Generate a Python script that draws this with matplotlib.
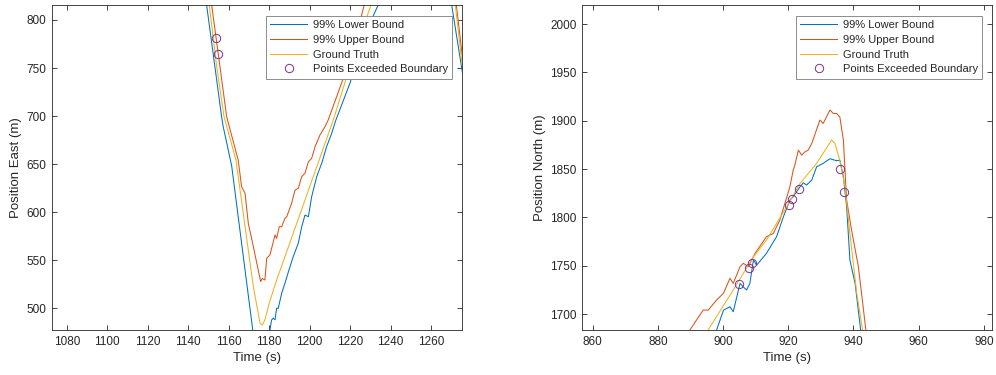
import matplotlib
matplotlib.use("Agg")
import matplotlib.pyplot as plt

plt.rcParams['font.family'] = ['Liberation Sans', 'DejaVu Sans']

# ---------------- Left panel: Position East ----------------
east_lower_t = [1148.1, 1149.1, 1153.2, 1156.5, 1157.3, 1161.5, 1166.4, 1171.9, 1173.5,
                1179.5, 1180.4, 1181.2, 1182.0, 1182.9, 1183.7, 1184.5, 1186.2, 1187.8, 1190.3, 1191.9,
                1194.4, 1196.1, 1197.7, 1199.4, 1201.0, 1203.5, 1206.0, 1208.4, 1210.9, 1213.0,
                1219.9, 1228.2, 1233.9, 1252.0, 1270.2, 1275.3, 1277.0]
east_lower = [830.0, 815.6, 751.4, 699.4, 689.0, 648.0, 567.6, 477.4, 455.0,
              455.0, 477.4, 487.8, 489.6, 488.0, 500.0, 500.0, 515.6, 526.0, 543.3, 553.7,
              567.7, 584.9, 597.0, 595.3, 616.0, 637.0, 651.0, 668.2, 682.0, 696.0,
              734.0, 789.6, 815.6, 900.0, 815.6, 748.0, 725.0]

east_upper_t = [1150.8, 1151.6, 1155.7, 1159.0, 1164.7, 1166.4, 1168.1, 1169.7, 1172.2, 1174.6,
                1175.8, 1176.6, 1177.9, 1178.8, 1180.4, 1182.9, 1183.7, 1185.0, 1186.2,
                1187.8, 1188.7, 1191.1, 1192.8, 1194.4, 1196.1, 1197.7, 1199.4, 1201.0, 1202.7,
                1205.1, 1207.6, 1209.2, 1219.9, 1227.0, 1250.0, 1272.5, 1275.3, 1277.0]
east_upper = [830.0, 815.6, 751.4, 699.4, 654.3, 626.5, 619.7, 588.4, 564.1, 539.9,
              527.7, 531.0, 529.4, 552.0, 555.5, 576.3, 572.8, 584.9, 584.9,
              593.6, 595.3, 609.3, 623.0, 624.9, 637.0, 640.5, 652.5, 656.0, 668.2,
              680.3, 689.0, 696.0, 758.4, 815.6, 900.0, 815.6, 765.0, 745.0]

east_truth_t = [1149.6, 1150.4, 1154.1, 1157.7, 1163.6, 1168.1, 1172.2, 1175.5, 1176.6, 1177.9,
                1180.0, 1183.7, 1191.9, 1201.8, 1211.7, 1219.9, 1230.0, 1250.0,
                1272.0, 1275.3, 1277.0]
east_truth = [830.0, 815.6, 751.4, 699.4, 654.3, 584.9, 522.5, 484.4, 482.6, 487.8,
              505.0, 529.4, 578.0, 637.0, 696.0, 751.4, 813.8, 900.0,
              815.6, 755.0, 735.0]

east_exceed_t = [1153.7, 1154.8]
east_exceed = [780.9, 764.3]

# ---------------- Right panel: Position North ----------------
north_lower_t = [897.5, 898.0, 900.1, 902.1, 903.1, 905.2, 906.2, 907.2, 908.2, 909.3,
                 910.3, 913.3, 916.4, 918.5, 920.5, 921.5, 923.6, 924.6, 925.6, 927.2,
                 928.7, 930.7, 932.8, 934.8, 935.8, 936.9, 937.9, 938.9, 940.5, 942.2, 942.8]
north_lower = [1670.0, 1683.5, 1704.0, 1707.6, 1702.4, 1731.7, 1728.0, 1724.9, 1731.7, 1755.8,
               1750.6, 1762.8, 1780.0, 1800.7, 1818.0, 1821.4, 1831.7, 1835.8, 1833.4, 1838.6,
               1852.4, 1855.9, 1860.7, 1858.6, 1859.3, 1842.1, 1811.0, 1755.8, 1731.7, 1683.5, 1665.0]

north_upper_t = [888.5, 889.8, 893.9, 895.4, 898.0, 900.1, 902.1, 903.1, 905.2, 906.2,
                 907.7, 909.8, 913.3, 915.4, 917.4, 920.5, 921.5, 922.0, 923.1, 924.1,
                 925.1, 926.1, 927.2, 929.7, 930.7, 932.8, 933.8, 934.8, 935.8, 936.9,
                 937.9, 939.4, 941.5, 943.8, 944.3]
north_upper = [1678.0, 1683.5, 1704.2, 1704.0, 1714.5, 1721.4, 1737.0, 1731.7, 1749.0, 1752.5,
               1749.0, 1762.8, 1780.0, 1783.4, 1797.2, 1831.7, 1848.9, 1854.0, 1869.6, 1864.4,
               1867.8, 1869.6, 1876.5, 1900.7, 1897.2, 1911.0, 1907.5, 1907.5, 1904.0, 1880.0,
               1818.0, 1787.0, 1749.0, 1683.5, 1665.0]

north_truth_t = [894.5, 895.4, 903.1, 909.3, 913.3, 919.5, 923.6, 928.7, 933.3, 934.3,
                 935.8, 937.4, 938.9, 941.0, 942.8, 943.3]
north_truth = [1678.0, 1683.5, 1724.9, 1759.3, 1776.5, 1811.0, 1835.1, 1855.9, 1880.0, 1876.5,
               1859.3, 1831.7, 1783.4, 1721.4, 1683.5, 1665.0]

north_exceed_t = [905.0, 908.0, 909.0, 920.1, 921.1, 923.2, 935.8, 937.0]
north_exceed = [1731.0, 1748.0, 1753.0, 1813.0, 1818.6, 1829.3, 1849.7, 1826.0]

legend_labels = ['99% Lower Bound', '99% Upper Bound', 'Ground Truth', 'Points Exceeded Boundary']

C_LOW = '#0072BD'
C_UP = '#D95319'
C_GT = '#EDB120'
C_PT = '#7E2F8E'
AX_COL = '#262626'

fig = plt.figure(figsize=(9.96, 3.75), dpi=100)
ax1 = fig.add_axes([52 / 996, 45 / 375, 410 / 996, 325 / 375])
ax2 = fig.add_axes([582 / 996, 45 / 375, 410 / 996, 325 / 375])


def style(ax, xlim, ylim, xticks, yticks, ylabel):
    ax.set_xlim(*xlim)
    ax.set_ylim(*ylim)
    ax.set_xticks(xticks)
    ax.set_yticks(yticks)
    ax.tick_params(direction='in', top=True, right=True, length=3.5, width=0.6,
                   colors=AX_COL, labelsize=8.5, pad=4)
    for s in ax.spines.values():
        s.set_color(AX_COL)
        s.set_linewidth(0.6)
    ax.set_xlabel('Time (s)', fontsize=9.5, color=AX_COL, labelpad=3)
    ax.set_ylabel(ylabel, fontsize=9.5, color=AX_COL, labelpad=3)
    leg = ax.legend(legend_labels, loc='upper right', bbox_to_anchor=(0.976, 0.967),
                    borderaxespad=0, fontsize=8, frameon=True, fancybox=False,
                    framealpha=1, edgecolor='#8c8c8c', handlelength=3.3,
                    handletextpad=0.5, labelspacing=0.42, borderpad=0.4)
    leg.get_frame().set_linewidth(0.7)
    for t in leg.get_texts():
        t.set_color(AX_COL)


ax1.plot(east_lower_t, east_lower, color=C_LOW, lw=0.75)
ax1.plot(east_upper_t, east_upper, color=C_UP, lw=0.75)
ax1.plot(east_truth_t, east_truth, color=C_GT, lw=0.75)
ax1.plot(east_exceed_t, east_exceed, 'o', color=C_PT, mfc='none', ms=6, mew=0.7)
style(ax1, (1072.7, 1275.3), (477.4, 815.6), range(1080, 1261, 20), range(500, 801, 50),
      'Position East (m)')

ax2.plot(north_lower_t, north_lower, color=C_LOW, lw=0.75)
ax2.plot(north_upper_t, north_upper, color=C_UP, lw=0.75)
ax2.plot(north_truth_t, north_truth, color=C_GT, lw=0.75)
ax2.plot(north_exceed_t, north_exceed, 'o', color=C_PT, mfc='none', ms=6, mew=0.7)
style(ax2, (856.7, 982.5), (1683.5, 2019.7), range(860, 981, 20), range(1700, 2001, 50),
      'Position North (m)')

fig.savefig('out.png', dpi=100)
